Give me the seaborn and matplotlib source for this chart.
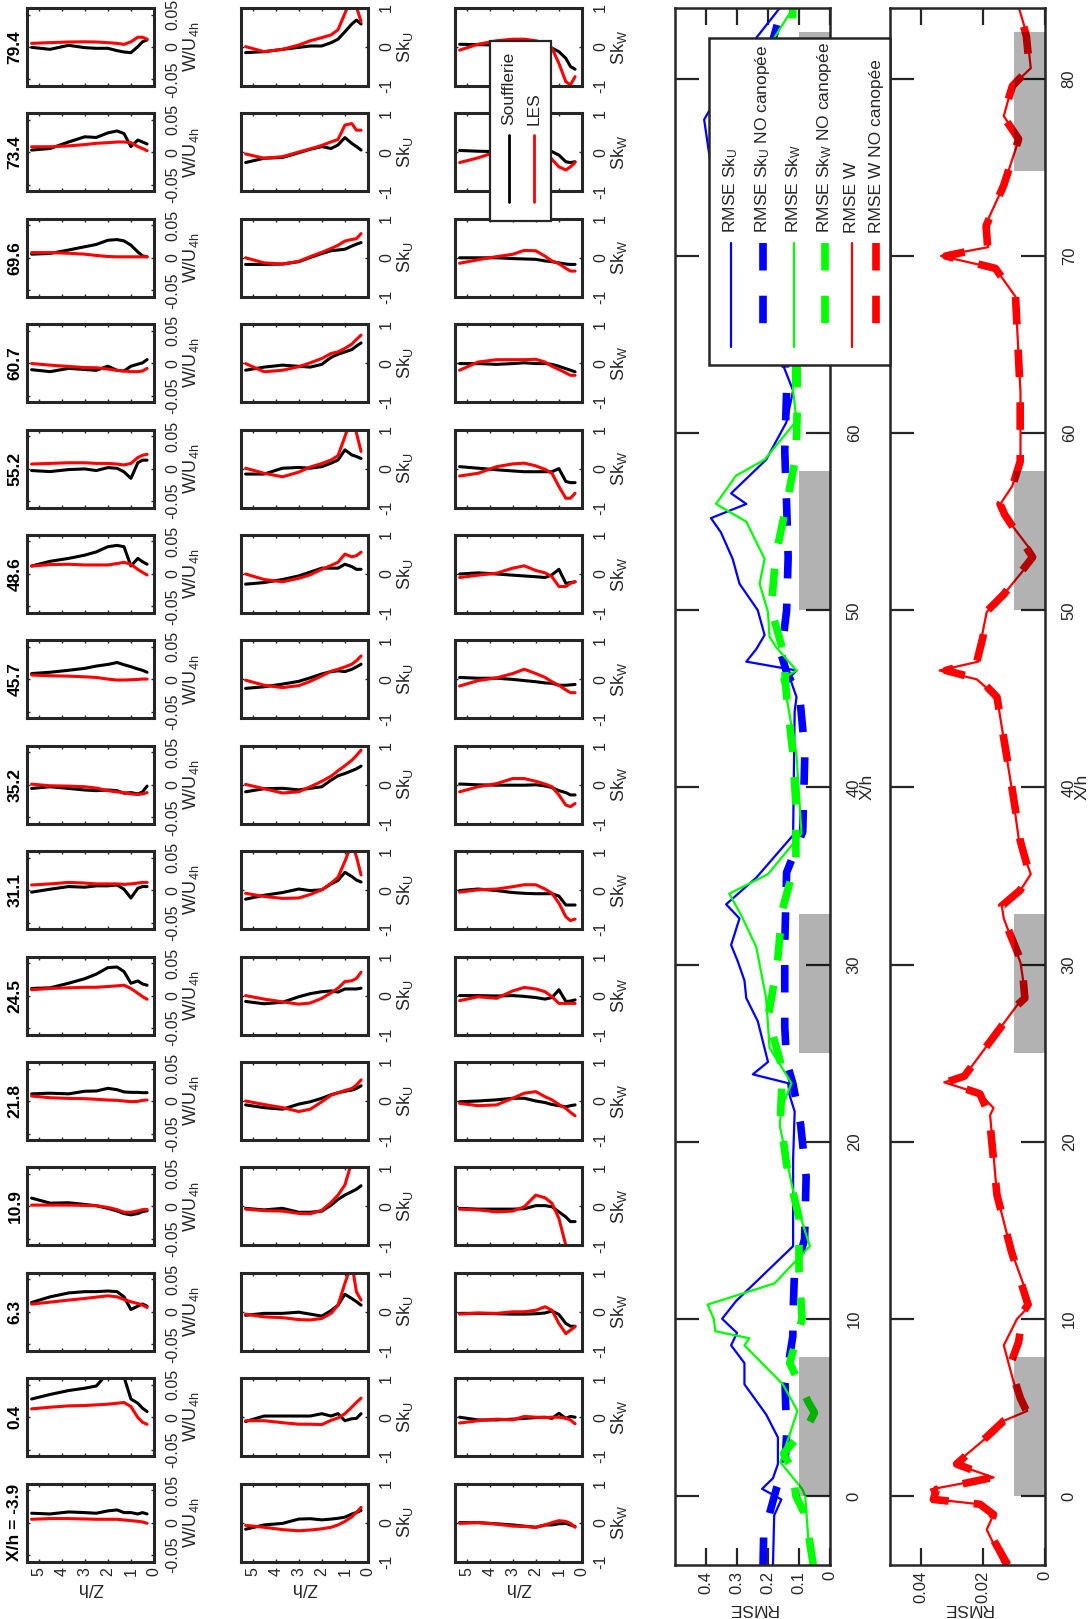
import matplotlib
matplotlib.use("Agg")
import matplotlib.pyplot as plt
import seaborn as sns
from matplotlib.patches import Rectangle

# -------------------------------
# DATA: vertical profiles (Z/h levels), stations from X/h = -3.9 to 79.4
# -------------------------------
STATIONS = ["X/h = -3.9", "0.4", "6.3", "10.9", "21.8", "24.5", "31.1", "35.2",
            "45.7", "48.6", "55.2", "60.7", "69.6", "73.4", "79.4"]
Z_LEVELS = [5.3, 4.5, 3.7, 3.0, 2.5, 2.0, 1.6, 1.3, 1.0, 0.7, 0.5, 0.3]

W_SOUFFLERIE = [
    [0.0144, 0.0133, 0.0164, 0.0154, 0.0144, 0.018, 0.0195, 0.0154, 0.0154, 0.0133, 0.0154, 0.0133],
    [0.028, 0.035, 0.041, 0.0446, 0.048, 0.068, 0.073, 0.062, 0.028, 0.0215, 0.0139, 0.0087],
    [0.0144, 0.023, 0.029, 0.031, 0.031, 0.032, 0.031, 0.023, 0.0036, 0.0087, 0.012, 0.0087],
    [0.0128, 0.005, 0.0056, 0.003, 0.001, -0.003, -0.007, -0.011, -0.013, -0.011, -0.008, -0.0067],
    [0.011, 0.012, 0.011, 0.015, 0.0154, 0.0195, 0.0174, 0.014, 0.0133, 0.0133, 0.0128, 0.0128],
    [0.011, 0.012, 0.019, 0.026, 0.033, 0.043, 0.044, 0.037, 0.019, 0.0225, 0.018, 0.016],
    [-0.003, 0.0015, 0.0056, 0.0046, 0.0067, 0.0067, 0.008, 0.0015, -0.012, 0.003, 0.0056, 0.0056],
    [-0.0056, -0.003, -0.0056, -0.008, -0.009, -0.008, -0.009, -0.013, -0.012, -0.014, -0.011, -0.002],
    [0.009, 0.011, 0.014, 0.017, 0.0205, 0.023, 0.026, 0.0226, 0.0195, 0.016, 0.014, 0.011],
    [0.0123, 0.0195, 0.024, 0.029, 0.034, 0.042, 0.044, 0.042, 0.0123, 0.024, 0.019, 0.015],
    [-0.003, -0.0046, -0.0015, -0.0005, -0.003, 0.0015, 0.0005, -0.005, -0.015, 0.009, 0.013, 0.013],
    [-0.010, -0.013, -0.008, -0.0097, -0.011, -0.0046, -0.011, -0.012, -0.0046, -0.0015, 0.0005, 0.0056],
    [0.0056, 0.0067, 0.012, 0.017, 0.0205, 0.027, 0.028, 0.026, 0.0195, 0.009, 0.003, 0.0015],
    [0.0036, 0.006, 0.016, 0.024, 0.023, 0.030, 0.033, 0.029, 0.009, 0.019, 0.016, 0.013],
    [-0.0005, -0.0036, 0.0026, -0.001, -0.002, -0.002, -0.0056, -0.0077, -0.0087, 0.0005, 0.008, 0.011],
]
W_LES = [
    [0.0051, 0.0062, 0.0062, 0.0056, 0.0051, 0.0051, 0.0051, 0.004, 0.003, 0.002, 0.001, -0.001],
    [0.0128, 0.0154, 0.0174, 0.018, 0.019, 0.02, 0.0215, 0.0226, 0.0164, -0.0005, -0.0077, -0.011],
    [0.0118, 0.0149, 0.018, 0.0205, 0.0226, 0.0246, 0.023, 0.019, 0.0154, 0.0128, 0.0103, 0.0067],
    [0.002, 0.002, 0.002, 0.0015, 0.001, -0.0015, -0.005, -0.009, -0.009, -0.007, -0.005, -0.0046],
    [0.0077, 0.005, 0.004, 0.0036, 0.0026, 0.0015, 0.001, 0.0, -0.001, -0.0005, 0.001, 0.0015],
    [0.009, 0.011, 0.012, 0.0128, 0.0128, 0.014, 0.015, 0.016, 0.011, 0.0036, -0.0015, -0.0056],
    [0.008, 0.0097, 0.012, 0.011, 0.0097, 0.0097, 0.0097, 0.009, 0.0097, 0.011, 0.012, 0.012],
    [0.001, -0.0015, -0.002, -0.003, -0.005, -0.009, -0.011, -0.012, -0.014, -0.015, -0.014, -0.012],
    [0.0067, 0.0056, 0.005, 0.004, 0.003, 0.0005, -0.001, -0.001, -0.0005, 0.0, 0.0005, 0.0005],
    [0.0123, 0.0144, 0.015, 0.0139, 0.0139, 0.0139, 0.016, 0.018, 0.015, 0.007, 0.0026, -0.0015],
    [0.007, 0.008, 0.009, 0.009, 0.008, 0.008, 0.007, 0.0056, 0.008, 0.017, 0.0205, 0.022],
    [-0.0005, -0.003, -0.005, -0.0067, -0.007, -0.009, -0.011, -0.012, -0.013, -0.013, -0.012, -0.008],
    [0.008, 0.008, 0.007, 0.0056, 0.0036, 0.002, 0.0015, 0.0015, 0.0015, 0.0015, 0.0015, 0.0015],
    [0.0087, 0.0087, 0.010, 0.012, 0.014, 0.015, 0.016, 0.016, 0.015, 0.009, 0.006, 0.0026],
    [0.0056, 0.0067, 0.0077, 0.008, 0.0077, 0.0067, 0.0056, 0.004, 0.008, 0.015, 0.015, 0.012],
]
SKU_SOUFFLERIE = [
    [-0.17, -0.06, -0.02, 0.09, 0.10, 0.07, 0.09, 0.11, 0.14, 0.22, 0.26, 0.31],
    [-0.11, 0.03, 0.03, 0.03, 0.03, 0.09, 0.03, 0.09, -0.09, -0.04, -0.03, 0.09],
    [-0.09, -0.04, -0.04, -0.01, -0.06, -0.11, 0.03, 0.17, 0.45, 0.34, 0.26, 0.17],
    [-0.05, -0.09, -0.05, -0.15, -0.15, -0.12, 0.03, 0.18, 0.29, 0.38, 0.44, 0.53],
    [-0.10, -0.17, -0.21, -0.08, -0.02, 0.07, 0.16, 0.21, 0.25, 0.28, 0.32, 0.39],
    [-0.15, -0.21, -0.17, -0.03, 0.05, 0.10, 0.12, 0.09, 0.17, 0.17, 0.17, 0.19],
    [-0.23, -0.13, -0.06, 0.03, -0.01, 0.01, 0.16, 0.25, 0.46, 0.35, 0.26, 0.21],
    [-0.18, -0.10, -0.09, -0.13, -0.09, -0.05, 0.12, 0.23, 0.29, 0.36, 0.41, 0.48],
    [-0.23, -0.19, -0.12, -0.05, 0.04, 0.14, 0.20, 0.22, 0.20, 0.26, 0.32, 0.39],
    [-0.26, -0.22, -0.14, -0.05, 0.05, 0.15, 0.15, 0.15, 0.25, 0.19, 0.12, 0.12],
    [-0.14, -0.14, 0.01, 0.03, 0.01, 0.05, 0.14, 0.22, 0.48, 0.35, 0.31, 0.26],
    [-0.18, -0.10, -0.05, -0.08, -0.10, -0.03, 0.15, 0.23, 0.29, 0.35, 0.44, 0.52],
    [-0.17, -0.17, -0.16, -0.10, 0.01, 0.11, 0.18, 0.20, 0.22, 0.30, 0.35, 0.39],
    [-0.26, -0.15, -0.13, -0.01, 0.08, 0.15, 0.10, 0.19, 0.38, 0.23, 0.15, 0.06],
    [-0.145, -0.12, -0.06, -0.01, 0.026, 0.026, 0.11, 0.20, 0.39, 0.59, 0.69, 0.59],
]
SKU_LES = [
    [-0.07, -0.12, -0.18, -0.21, -0.19, -0.16, -0.12, -0.06, 0.03, 0.15, 0.26, 0.39],
    [-0.09, -0.09, -0.14, -0.18, -0.18, -0.19, -0.08, -0.02, 0.09, 0.26, 0.38, 0.49],
    [-0.06, -0.13, -0.15, -0.20, -0.21, -0.17, -0.04, 0.17, 0.73, 1.24, 0.51, 0.30],
    [-0.07, -0.11, -0.12, -0.18, -0.19, -0.10, 0.10, 0.29, 0.55, 1.15, 1.57, 1.90],
    [0.0, -0.09, -0.17, -0.27, -0.21, -0.02, 0.15, 0.21, 0.27, 0.32, 0.41, 0.54],
    [0.0, -0.09, -0.16, -0.22, -0.19, -0.07, 0.07, 0.19, 0.36, 0.38, 0.44, 0.60],
    [-0.08, -0.16, -0.21, -0.20, -0.11, 0.01, 0.18, 0.33, 0.74, 1.20, 0.86, 0.39],
    [0.01, -0.10, -0.21, -0.18, -0.05, 0.09, 0.22, 0.36, 0.49, 0.63, 0.75, 0.89],
    [-0.02, -0.15, -0.21, -0.16, -0.05, 0.09, 0.21, 0.26, 0.32, 0.39, 0.48, 0.60],
    [0.0, -0.14, -0.20, -0.11, -0.02, 0.12, 0.22, 0.30, 0.51, 0.44, 0.47, 0.56],
    [0.01, -0.12, -0.21, -0.09, 0.04, 0.13, 0.22, 0.33, 0.82, 1.33, 0.91, 0.44],
    [-0.01, -0.22, -0.18, -0.09, 0.01, 0.12, 0.25, 0.29, 0.38, 0.49, 0.61, 0.72],
    [0.0, -0.13, -0.16, -0.09, 0.03, 0.14, 0.24, 0.32, 0.43, 0.47, 0.49, 0.62],
    [-0.04, -0.15, -0.11, 0.01, 0.09, 0.18, 0.27, 0.33, 0.70, 0.74, 0.57, 0.57],
    [0.01, -0.12, -0.06, 0.05, 0.16, 0.24, 0.31, 0.44, 0.86, 1.30, 1.03, 0.65],
]
SKW_SOUFFLERIE = [
    [0.0, 0.0, -0.03, -0.06, -0.09, -0.12, -0.06, -0.06, -0.03, -0.02, -0.06, -0.10],
    [0.0, -0.07, -0.07, -0.05, -0.03, -0.01, 0.0, -0.03, 0.10, -0.03, 0.02, 0.0],
    [-0.04, -0.04, -0.05, -0.06, -0.06, -0.05, -0.03, 0.02, -0.07, -0.30, -0.37, -0.37],
    [-0.05, -0.07, -0.07, -0.07, -0.06, 0.02, 0.02, -0.01, -0.14, -0.27, -0.39, -0.39],
    [-0.02, 0.0, 0.03, 0.07, 0.07, 0.0, -0.04, -0.09, -0.12, -0.15, -0.12, -0.10],
    [0.0, 0.0, -0.01, 0.0, -0.02, -0.05, -0.09, -0.05, 0.15, -0.15, -0.14, -0.11],
    [-0.01, 0.03, -0.01, -0.06, -0.08, -0.09, -0.09, -0.09, -0.15, -0.38, -0.38, -0.38],
    [0.02, 0.0, -0.01, -0.01, -0.01, 0.0, -0.03, -0.07, -0.15, -0.20, -0.26, -0.26],
    [0.05, 0.03, 0.03, 0.0, -0.03, -0.06, -0.09, -0.10, -0.15, -0.15, -0.14, -0.13],
    [0.0, 0.03, 0.0, -0.03, -0.05, -0.07, -0.09, -0.02, 0.12, -0.24, -0.22, -0.20],
    [0.05, 0.01, -0.03, -0.06, -0.08, -0.08, -0.08, -0.08, 0.0, -0.33, -0.36, -0.36],
    [-0.01, -0.01, -0.03, -0.01, 0.01, -0.01, -0.01, -0.03, -0.08, -0.14, -0.18, -0.22],
    [0.0, 0.0, 0.0, -0.02, -0.03, -0.04, -0.08, -0.10, -0.13, -0.16, -0.17, -0.17],
    [0.05, 0.03, 0.02, 0.02, 0.02, 0.02, 0.02, 0.02, -0.07, -0.24, -0.26, -0.24],
    [0.07, 0.06, 0.05, 0.05, 0.05, 0.04, 0.02, -0.03, -0.12, -0.29, -0.50, -0.57],
]
SKW_LES = [
    [-0.02, 0.0, -0.04, -0.09, -0.10, -0.12, -0.06, 0.0, 0.05, 0.03, -0.02, -0.12],
    [-0.15, -0.09, -0.05, -0.07, 0.02, 0.0, -0.01, 0.0, 0.0, -0.03, -0.07, -0.17],
    [-0.06, -0.03, -0.04, 0.0, 0.0, 0.04, 0.13, 0.04, -0.30, -0.56, -0.47, -0.38],
    [-0.07, -0.09, -0.14, -0.12, -0.01, 0.29, 0.22, 0.08, -0.31, -1.0, -1.4, -1.8],
    [-0.06, -0.12, -0.10, 0.07, 0.20, 0.24, 0.11, 0.03, -0.09, -0.19, -0.29, -0.38],
    [-0.13, -0.03, -0.07, 0.12, 0.21, 0.17, 0.10, -0.03, -0.20, -0.20, -0.20, -0.20],
    [-0.05, 0.01, 0.03, 0.09, 0.14, 0.14, 0.03, -0.08, -0.33, -0.68, -0.78, -0.74],
    [-0.18, -0.05, 0.03, 0.16, 0.16, 0.09, 0.02, -0.05, -0.26, -0.52, -0.56, -0.48],
    [-0.17, -0.03, 0.04, 0.15, 0.26, 0.15, 0.05, -0.06, -0.15, -0.27, -0.34, -0.34],
    [-0.09, -0.03, 0.02, 0.15, 0.21, 0.09, 0.03, -0.07, -0.32, -0.32, -0.24, -0.20],
    [-0.19, -0.12, 0.05, 0.12, 0.14, 0.07, -0.02, -0.12, -0.46, -0.76, -0.76, -0.63],
    [-0.18, 0.03, 0.09, 0.09, 0.09, 0.10, 0.03, -0.08, -0.16, -0.25, -0.31, -0.31],
    [-0.14, -0.05, 0.03, 0.09, 0.19, 0.18, 0.04, -0.08, -0.15, -0.27, -0.34, -0.34],
    [-0.26, -0.14, 0.02, 0.10, 0.15, 0.15, 0.02, -0.18, -0.37, -0.45, -0.37, -0.26],
    [-0.08, 0.07, 0.16, 0.20, 0.20, 0.16, 0.10, -0.03, -0.42, -0.89, -0.97, -0.76],
]

# -------------------------------
# DATA: RMSE along X/h
# -------------------------------
XH_SKU = [-3.9, -1.1, -0.2, 0.4, 1.0, 1.8, 3.3, 4.6, 6.3, 7.5, 8.5, 9.2, 10.0, 11.0, 14.1, 19.0,
          21.7, 22.6, 23.3, 23.8, 24.5, 26.8, 28.1, 29.1, 30.2, 31.1, 32.6, 33.4, 34.9, 37.3,
          44.3, 45.1, 46.2, 46.6, 47.1, 47.8, 48.6, 50.0, 51.5, 52.9, 54.4, 55.2, 56.0, 56.6,
          58.5, 60.6, 62.4, 66.0, 69.6, 73.4, 77.7, 80.0, 82.2, 84.0]
RMSE_SKU = [0.184, 0.18, 0.157, 0.219, 0.184, 0.168, 0.168, 0.206, 0.276, 0.276, 0.319, 0.30,
            0.348, 0.303, 0.119, 0.119, 0.114, 0.13, 0.135, 0.249, 0.2, 0.233, 0.27, 0.276,
            0.298, 0.319, 0.292, 0.335, 0.238, 0.119, 0.114, 0.108, 0.13, 0.108, 0.27, 0.238,
            0.211, 0.233, 0.292, 0.314, 0.352, 0.384, 0.27, 0.319, 0.206, 0.141, 0.119, 0.2,
            0.3, 0.37, 0.406, 0.33, 0.243, 0.162]
XH_SKU_NC = [-3.9, -2.2, -1.0, 0.4, 1.8, 3.5, 6.3, 9.0, 10.9, 12.4, 14.5, 18.0, 21.0, 23.3, 24.5,
             26.5, 31.1, 35.2, 37.5, 40.0, 42.0, 45.0, 46.5, 47.5, 50.0, 53.0, 56.0, 59.0, 62.4,
             66.0, 70.0, 75.0, 80.0, 82.2, 84.0]
RMSE_SKU_NC = [0.216, 0.214, 0.195, 0.173, 0.145, 0.14, 0.145, 0.12, 0.118, 0.115, 0.082, 0.077,
               0.095, 0.12, 0.14, 0.146, 0.146, 0.14, 0.088, 0.084, 0.081, 0.097, 0.14, 0.157,
               0.14, 0.135, 0.14, 0.146, 0.14, 0.15, 0.16, 0.17, 0.19, 0.184, 0.155]
XH_SKW = [-3.9, -2.4, -1.0, 0.0, 0.4, 1.9, 4.8, 6.3, 8.5, 8.9, 9.3, 10.0, 10.8, 12.0, 14.1, 16.8,
          20.9, 21.9, 23.3, 25.3, 28.1, 31.0, 32.8, 34.0, 35.1, 37.4, 41.8, 45.1, 46.1, 46.6,
          47.9, 48.5, 49.9, 51.5, 52.9, 55.0, 56.0, 57.6, 58.5, 60.7, 62.4, 66.0, 70.0, 75.0,
          79.0, 82.2, 84.0]
RMSE_SKW = [0.055, 0.07, 0.076, 0.08, 0.09, 0.16, 0.105, 0.152, 0.276, 0.26, 0.37, 0.375, 0.395,
            0.179, 0.065, 0.114, 0.162, 0.157, 0.124, 0.195, 0.206, 0.238, 0.287, 0.325, 0.2,
            0.092, 0.108, 0.14, 0.157, 0.108, 0.173, 0.195, 0.2, 0.227, 0.211, 0.27, 0.368,
            0.303, 0.211, 0.108, 0.119, 0.12, 0.14, 0.15, 0.17, 0.184, 0.119]
XH_SKW_NC = [-3.9, -2.1, -0.9, 0.0, 1.4, 2.4, 4.0, 4.7, 5.3, 7.5, 10.0, 12.7, 15.7, 18.7, 21.3,
             23.3, 24.5, 27.0, 30.0, 33.0, 35.9, 39.0, 42.0, 45.1, 47.6, 50.1, 53.1, 56.0, 58.7,
             61.7, 70.0, 78.0, 84.0]
RMSE_SKW_NC = [0.054, 0.07, 0.085, 0.11, 0.12, 0.15, 0.07, 0.05, 0.07, 0.13, 0.09, 0.1, 0.1,
               0.14, 0.16, 0.155, 0.16, 0.2, 0.17, 0.155, 0.11, 0.11, 0.12, 0.14, 0.15, 0.19,
               0.175, 0.14, 0.11, 0.105, 0.11, 0.12, 0.12]
XH_W = [-3.9, -1.9, -1.05, -0.47, -0.2, 0.37, 1.04, 1.8, 3.3, 4.24, 4.8, 5.5, 6.35, 8.5, 10.0,
        10.8, 13.9, 17.0, 21.5, 21.9, 22.7, 23.35, 23.7, 27.7, 28.1, 30.1, 32.6, 33.3, 34.2,
        35.1, 37.0, 39.8, 45.1, 46.1, 46.6, 47.1, 48.5, 49.9, 50.9, 53.0, 53.4, 55.4, 56.0,
        57.0, 58.4, 62.3, 67.7, 69.3, 70.0, 70.5, 71.7, 74.0, 76.6, 77.9, 79.6, 80.6, 82.4, 84.0]
RMSE_W = [0.0133, 0.0188, 0.0166, 0.021, 0.0352, 0.0368, 0.0166, 0.029, 0.0188, 0.0133, 0.0057,
          0.0079, 0.010, 0.0133, 0.009, 0.0046, 0.011, 0.0155, 0.0177, 0.0166, 0.021, 0.0325,
          0.026, 0.009, 0.0062, 0.0079, 0.0133, 0.0139, 0.0079, 0.0046, 0.0084, 0.0106, 0.0155,
          0.022, 0.034, 0.0215, 0.0204, 0.0188, 0.0133, 0.0035, 0.0046, 0.0133, 0.0144, 0.0106,
          0.0079, 0.0079, 0.0095, 0.016, 0.0335, 0.0183, 0.0193, 0.0133, 0.0084, 0.0133, 0.0106,
          0.0046, 0.0057, 0.0084]
XH_W_NC = [-3.9, -1.9, -1.05, -0.47, -0.2, 0.37, 1.04, 1.8, 3.3, 4.24, 4.8, 5.5, 6.35, 7.5, 8.7,
           9.3, 10.0, 10.8, 13.9, 17.0, 21.5, 22.7, 23.35, 23.7, 27.7, 28.1, 30.1, 32.6, 33.3,
           34.2, 35.1, 37.0, 39.8, 45.1, 46.1, 46.6, 47.1, 48.5, 49.9, 50.9, 53.0, 55.4, 56.0,
           57.0, 58.4, 62.3, 67.7, 69.3, 70.0, 70.5, 71.7, 74.0, 76.6, 77.9, 79.6, 80.6, 82.4, 84.0]
RMSE_W_NC = [0.012, 0.0185, 0.0166, 0.021, 0.036, 0.035, 0.017, 0.0285, 0.019, 0.0133, 0.006,
             0.0079, 0.0095, 0.011, 0.0085, 0.008, 0.0085, 0.0055, 0.011, 0.0155, 0.018, 0.021,
             0.032, 0.026, 0.009, 0.0065, 0.0075, 0.0133, 0.014, 0.008, 0.005, 0.008, 0.0105,
             0.0155, 0.021, 0.032, 0.022, 0.020, 0.019, 0.0133, 0.004, 0.013, 0.0145, 0.0105,
             0.008, 0.008, 0.0095, 0.016, 0.032, 0.0185, 0.019, 0.0133, 0.0085, 0.0135, 0.0105,
             0.005, 0.006, 0.0085]

CANOPY_START = [0.0, 25.0, 50.0, 74.8]
CANOPY_LEN = 7.85

# -------------------------------
# STYLE / LAYOUT (pixel units of the 1091x1619 canvas)
# -------------------------------
W_PX, H_PX = 1091, 1619
EDGE = "#262626"
sns.set_theme(style="white")
plt.rcParams["font.family"] = ["Liberation Sans", "DejaVu Sans"]
plt.rcParams["mathtext.default"] = "regular"
plt.rcParams["axes.edgecolor"] = EDGE
plt.rcParams["xtick.color"] = EDGE
plt.rcParams["ytick.color"] = EDGE
plt.rcParams["axes.labelcolor"] = EDGE

fig = plt.figure(figsize=(W_PX / 100, H_PX / 100), dpi=100)
fig.patch.set_facecolor("white")


def add_px_axes(left, top, width, height):
    return fig.add_axes([left / W_PX, 1 - (top + height) / H_PX, width / W_PX, height / H_PX])


SMALL_LEFT = [27, 241, 455]
SMALL_W, SMALL_H = 127, 78
ROW_TOP0, ROW_STEP = 8, 105.4

columns = [
    (W_SOUFFLERIE, W_LES, 0.06, [-0.05, 0, 0.05], ["-0.05", "0", "0.05"], "W/U$_{4h}$"),
    (SKU_SOUFFLERIE, SKU_LES, 1.0, [-1, 0, 1], ["-1", "0", "1"], "Sk$_U$"),
    (SKW_SOUFFLERIE, SKW_LES, 1.0, [-1, 0, 1], ["-1", "0", "1"], "Sk$_W$"),
]

for r, station in enumerate(STATIONS):
    top = ROW_TOP0 + ROW_STEP * (len(STATIONS) - 1 - r)
    for c, (souff, les, lim, ticks, tlabels, ylab) in enumerate(columns):
        ax = add_px_axes(SMALL_LEFT[c], top, SMALL_W, SMALL_H)
        sns.lineplot(x=Z_LEVELS, y=souff[r], sort=False, estimator=None, color="black",
                     lw=2.2, ax=ax)
        sns.lineplot(x=Z_LEVELS, y=les[r], sort=False, estimator=None, color="red",
                     lw=2.2, ax=ax)
        ax.set_xlim(5.5, 0)
        ax.set_ylim(-lim, lim)
        for sp in ax.spines.values():
            sp.set_linewidth(2.2)
            sp.set_color(EDGE)
        ax.set_xticks([0, 1, 2, 3, 4, 5])
        ax.set_yticks(ticks)
        ax.yaxis.tick_right()
        ax.yaxis.set_label_position("right")
        ax.tick_params(direction="in", length=2.5, width=1, top=True, bottom=True,
                       left=True, right=True, labelsize=11.5)
        ax.tick_params(axis="y", labelright=True, labelleft=False, pad=8)
        ax.set_yticklabels(tlabels, rotation=90, va="center")
        ax.set_ylabel(ylab, fontsize=13)
        ax.yaxis.label.set(rotation=90, rotation_mode="default", ha="center", va="center")
        ax.yaxis.set_label_coords(1.29, 0.5)
        if r == 0:
            ax.set_xticklabels(["0", "1", "2", "3", "4", "5"], rotation=90, va="top",
                               ha="center")
            ax.tick_params(axis="x", pad=4)
            ax.set_xlabel("Z/h", fontsize=13, rotation=180)
            ax.xaxis.label.set(va="center", ha="center")
            ax.xaxis.set_label_coords(0.5, -0.33)
        else:
            ax.tick_params(axis="x", labelbottom=False)
            ax.set_xlabel("")
        if c == 0:
            ax.text(-0.095, 0.5, station, transform=ax.transAxes, rotation=90,
                    ha="center", va="center", fontsize=12.5, fontweight="bold", color="black")

# -------------------------------
# RMSE panels
# -------------------------------
big_panels = [
    (675, 0.5, [0, 0.1, 0.2, 0.3, 0.4], ["0", "0.1", "0.2", "0.3", "0.4"], 0.1,
     [(XH_SKU, RMSE_SKU, "blue", False), (XH_SKU_NC, RMSE_SKU_NC, "blue", True),
      (XH_SKW, RMSE_SKW, "lime", False), (XH_SKW_NC, RMSE_SKW_NC, "lime", True)]),
    (890, 0.05, [0, 0.02, 0.04], ["0", "0.02", "0.04"], 0.01,
     [(XH_W, RMSE_W, "red", False), (XH_W_NC, RMSE_W_NC, "red", True)]),
]

for left, xmax, xticks, xlabels, canopy_h, series in big_panels:
    ax = add_px_axes(left, 8, 155, 1557)
    for xh, val, color, dashed in series:
        sns.lineplot(x=val, y=xh, orient="y", sort=False, estimator=None, color=color,
                     lw=5.5 if dashed else 1.6, ax=ax)
        if dashed:
            line = ax.lines[-1]
            line.set_dashes((3.6, 3.3))
            line.set_dash_capstyle("butt")
    for start in CANOPY_START:
        ax.fill_betweenx([start, start + CANOPY_LEN], 0, canopy_h, color="black",
                         alpha=0.3, lw=0, zorder=3)
    ax.set_xlim(xmax, 0)
    ax.set_ylim(-3.9, 84)
    for sp in ax.spines.values():
        sp.set_linewidth(1.8)
        sp.set_color(EDGE)
    ax.set_xticks(xticks)
    ax.set_yticks([0, 10, 20, 30, 40, 50, 60, 70, 80])
    ax.yaxis.tick_right()
    ax.yaxis.set_label_position("right")
    ax.tick_params(direction="in", width=1.6, top=True, bottom=True, left=True, right=True,
                   labelsize=12)
    ax.tick_params(axis="y", length=17, labelright=True, labelleft=False, pad=12)
    ax.tick_params(axis="x", length=12, pad=4)
    ax.set_yticklabels([str(v) for v in range(0, 90, 10)], rotation=90, va="center")
    ax.set_xticklabels(xlabels, rotation=90, va="top", ha="center")
    ax.set_ylabel("X/h", fontsize=12.5)
    ax.yaxis.label.set(rotation=90, rotation_mode="default", ha="center", va="center")
    ax.yaxis.set_label_coords(1.24, 0.5)
    ax.set_xlabel("RMSE", fontsize=12.5, rotation=180)
    ax.xaxis.label.set(va="center", ha="center")
    ax.xaxis.set_label_coords(0.5, -0.028)

# -------------------------------
# Legends (drawn rotated, in canvas pixel units)
# -------------------------------
ov = fig.add_axes([0, 0, 1, 1], zorder=20)
ov.set_xlim(0, W_PX)
ov.set_ylim(H_PX, 0)
ov.set_axis_off()

ov.add_patch(Rectangle((490, 41), 61, 180, facecolor="white", edgecolor=EDGE, lw=1.6))
for x, color, name in [(509, "black", "Soufflerie"), (534, "red", "LES")]:
    ov.plot([x, x], [135, 202], color=color, lw=2)
    ov.text(x, 125, name, rotation=90, ha="center", va="bottom", fontsize=12.5, color=EDGE)

ov.add_patch(Rectangle((709, 38), 181, 327, facecolor="white", edgecolor=EDGE, lw=1.8))
legend_entries = [
    (731, "blue", False, "RMSE Sk$_U$"),
    (763, "blue", True, "RMSE Sk$_U$ NO canopée"),
    (794, "lime", False, "RMSE Sk$_W$"),
    (825, "lime", True, "RMSE Sk$_W$ NO canopée"),
    (852, "red", False, "RMSE W"),
    (876, "red", True, "RMSE W NO canopée"),
]
for x, color, dashed, name in legend_entries:
    if dashed:
        ov.plot([x, x], [243, 347], color=color, lw=5.5, dashes=(3.6, 3.3),
                dash_capstyle="butt")
    else:
        ov.plot([x, x], [243, 347], color=color, lw=1.6)
    ov.text(x, 233, name, rotation=90, ha="center", va="bottom", fontsize=12.5, color=EDGE)

fig.savefig("out.png", dpi=100)
